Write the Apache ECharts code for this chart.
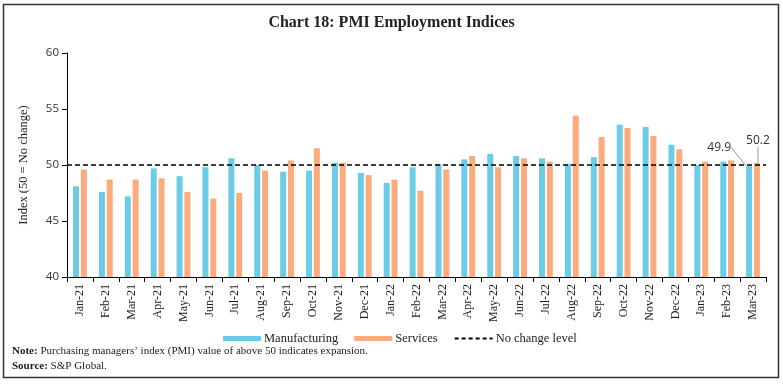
<!DOCTYPE html>
<html>
<head>
<meta charset="utf-8">
<script src="https://cdn.jsdelivr.net/npm/echarts@6/dist/echarts.min.js"></script>
<style>html,body{margin:0;padding:0;background:#fff;}#c{width:783px;height:384px;}</style>
</head>
<body>
<div id="c"></div>
<script>
var categories = ['Jan-21','Feb-21','Mar-21','Apr-21','May-21','Jun-21','Jul-21','Aug-21','Sep-21','Oct-21','Nov-21','Dec-21','Jan-22','Feb-22','Mar-22','Apr-22','May-22','Jun-22','Jul-22','Aug-22','Sep-22','Oct-22','Nov-22','Dec-22','Jan-23','Feb-23','Mar-23'];
var manufacturing = [48.1,47.6,47.2,49.7,49.0,49.8,50.6,50.0,49.4,49.5,50.2,49.3,48.4,49.8,50.1,50.5,51.0,50.8,50.6,50.1,50.7,53.6,53.4,51.8,50.0,50.3,49.9];
var services = [49.6,48.7,48.7,48.8,47.6,47.0,47.5,49.5,50.4,51.5,50.2,49.1,48.7,47.7,49.6,50.8,49.8,50.6,50.3,54.4,52.5,53.3,52.6,51.4,50.3,50.4,50.2];
var noChangeLevel = 50;
var yTicks = [40, 45, 50, 55, 60];

var last = categories.length - 1;
function mkData(arr) {
  return arr.map(function (v, i) {
    if (i === last) {
      return { value: v, label: { show: true } };
    }
    return v;
  });
}
var serif = '"Liberation Serif", "DejaVu Serif", serif';
var sans = '"Open Sans", "Noto Sans", sans-serif';

var chart = echarts.init(document.getElementById('c'));
chart.setOption({
  animation: false,
  title: {
    text: 'Chart 18: PMI Employment Indices',
    left: 'center', top: 10,
    textStyle: { fontFamily: serif, fontSize: 16, fontWeight: 'bold', color: '#222' }
  },
  grid: { left: 67, right: 17, top: 53, bottom: 107 },
  legend: {
    left: 218, top: 327,
    itemWidth: 38, itemHeight: 5, itemGap: 16,
    textStyle: { fontFamily: serif, fontSize: 12.5, color: '#222', padding: [0, 0, 0, -2] },
    data: [
      { name: 'Manufacturing', icon: 'rect' },
      { name: 'Services', icon: 'rect' },
      { name: 'No change level', itemStyle: { opacity: 0 } }
    ]
  },
  xAxis: {
    type: 'category',
    data: categories,
    axisLine: { lineStyle: { color: '#000', width: 1 } },
    axisTick: { show: true, length: 5, lineStyle: { color: '#000' } },
    axisLabel: { rotate: 90, interval: 0, fontFamily: serif, fontSize: 12, color: '#222', margin: 7 }
  },
  yAxis: {
    type: 'value',
    min: yTicks[0], max: yTicks[yTicks.length - 1], interval: 5,
    name: 'Index (50 = No change)',
    nameLocation: 'middle', nameGap: 37,
    nameTextStyle: { fontFamily: serif, fontSize: 12.5, color: '#222' },
    axisLine: { show: true, lineStyle: { color: '#000', width: 1 } },
    axisTick: { show: true, length: 5, lineStyle: { color: '#000' } },
    splitLine: { show: false },
    axisLabel: { fontFamily: sans, fontSize: 11.5, color: '#333', margin: 8 }
  },
  series: [
    {
      name: 'Manufacturing', type: 'bar',
      data: mkData(manufacturing),
      barWidth: 6, barGap: '30%',
      itemStyle: { color: '#6ccbe5' },
      label: { show: false, position: 'top', fontFamily: sans, fontSize: 12, color: '#333', formatter: function (p) { return p.value.toFixed(1); } },
      labelLayout: function (p) { return { dx: -30, dy: -8 }; },
      labelLine: { show: true, lineStyle: { color: '#999', width: 1 } }
    },
    {
      name: 'Services', type: 'bar',
      data: mkData(services),
      barWidth: 6,
      itemStyle: { color: '#fbab7c' },
      label: { show: false, position: 'top', fontFamily: sans, fontSize: 12, color: '#333', formatter: function (p) { return p.value.toFixed(1); } },
      labelLayout: function (p) { return { dx: 1, dy: -11 }; },
      labelLine: { show: true, lineStyle: { color: '#999', width: 1 } }
    },
    {
      name: 'No change level', type: 'line',
      data: [],
      symbol: 'none',
      itemStyle: { color: '#000' },
      lineStyle: { color: '#000', type: [4, 3], width: 1.5 },
      markLine: {
        silent: true, symbol: 'none', label: { show: false },
        lineStyle: { color: '#000', type: [5, 3], width: 1.5 },
        data: [{ yAxis: noChangeLevel }]
      }
    }
  ],
  graphic: [
    { type: 'rect', shape: { x: 3.5, y: 4.5, width: 775, height: 373 }, style: { fill: 'none', stroke: '#333', lineWidth: 1.5 }, silent: true },
    { type: 'text', left: 12, top: 346, style: { text: '{b|Note:} Purchasing managers\u2019 index (PMI) value of above 50 indicates expansion.', rich: { b: { fontFamily: serif, fontSize: 11, fontWeight: 'bold', fill: '#222' } }, fontFamily: serif, fontSize: 11, fill: '#222' } },
    { type: 'text', left: 12, top: 361, style: { text: '{b|Source:} S&P Global.', rich: { b: { fontFamily: serif, fontSize: 11, fontWeight: 'bold', fill: '#222' } }, fontFamily: serif, fontSize: 11, fill: '#222' } }
  ]
});
</script>
</body>
</html>
